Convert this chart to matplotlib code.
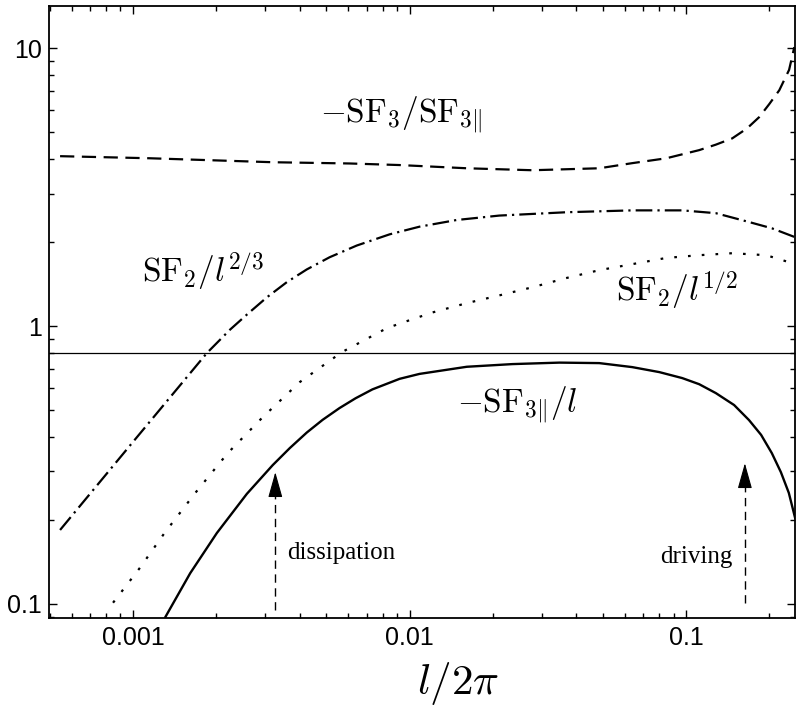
import matplotlib
matplotlib.use('Agg')
import matplotlib.pyplot as plt

plt.rcParams['mathtext.fontset'] = 'cm'

# -SF3/SF3par (dashed)
ratio_x = [0.000545, 0.00115, 0.0032, 0.00607, 0.0092, 0.0161, 0.0278, 0.0485, 0.0638,
           0.0848, 0.1114, 0.128, 0.1467, 0.166, 0.1835, 0.1995, 0.217, 0.2355, 0.246]
ratio_y = [4.09, 4.02, 3.89, 3.85, 3.80, 3.70, 3.64, 3.70, 3.86,
           4.02, 4.30, 4.50, 4.74, 5.15, 5.65, 6.29, 7.06, 8.36, 10.1]

# SF2/l^(2/3) (dash-dot)
sf23_x = [0.000545, 0.001, 0.00185, 0.00224, 0.00258, 0.00305, 0.0036, 0.00425, 0.00514,
          0.00644, 0.00847, 0.01086, 0.0148, 0.0211, 0.0369, 0.0638, 0.0968, 0.128,
          0.1687, 0.204, 0.2476]
sf23_y = [0.1846, 0.383, 0.80, 0.97, 1.10, 1.27, 1.44, 1.60, 1.77,
          1.95, 2.14, 2.28, 2.41, 2.50, 2.57, 2.61, 2.61, 2.55,
          2.37, 2.25, 2.09]

# SF2/l^(1/2) (dotted)
sf12_x = [0.000847, 0.00106, 0.0013, 0.00168, 0.0022, 0.00295, 0.00401, 0.00569, 0.00827,
          0.00944, 0.0121, 0.0161, 0.0211, 0.0278, 0.0369, 0.0485, 0.0848, 0.1114,
          0.1467, 0.1946, 0.222, 0.2476]
sf12_y = [0.101, 0.135, 0.180, 0.251, 0.349, 0.471, 0.629, 0.806, 0.983,
          1.03, 1.12, 1.21, 1.29, 1.38, 1.49, 1.59, 1.76, 1.80,
          1.83, 1.80, 1.73, 1.67]

# -SF3par/l (solid)
sf3_x = [0.00131, 0.00161, 0.00201, 0.00258, 0.0032, 0.00369, 0.00425, 0.00485, 0.00558,
         0.00638, 0.00734, 0.0092, 0.01086, 0.0161, 0.02355, 0.0348, 0.0485, 0.0638,
         0.080, 0.0968, 0.1114, 0.128, 0.149, 0.1687, 0.1866, 0.204, 0.220, 0.235, 0.2476]
sf3_y = [0.0898, 0.129, 0.180, 0.249, 0.316, 0.364, 0.414, 0.460, 0.507,
         0.550, 0.592, 0.646, 0.673, 0.714, 0.730, 0.739, 0.736, 0.712,
         0.683, 0.650, 0.618, 0.574, 0.520, 0.459, 0.406, 0.349, 0.298, 0.251, 0.204]

four_fifths = 0.8

# arrows: x, bottom, tip
arrow_x = [0.00327, 0.163]
arrow_bottom = [0.095, 0.101]
arrow_tip = [0.298, 0.321]

x_ticks = [0.001, 0.01, 0.1]
x_labels = ['0.001', '0.01', '0.1']
y_ticks = [0.1, 1, 10]
y_labels = ['0.1', '1', '10']

fig = plt.figure(figsize=(7.96, 7.11), dpi=100)
ax = fig.add_axes([49 / 796, 1 - 618 / 711, 746 / 796, 612 / 711])

ax.plot(ratio_x, ratio_y, color='black', lw=1.6, linestyle=(0, (6.4, 3.4)))
ax.plot(sf23_x, sf23_y, color='black', lw=1.6, linestyle=(0, (7.5, 2.3, 1.0, 2.3)))
ax.plot(sf12_x, sf12_y, color='black', lw=1.6, linestyle=(0, (1.2, 5.0)))
ax.plot(sf3_x, sf3_y, color='black', lw=1.7)
ax.axhline(four_fifths, color='black', lw=0.9)

for xa, yb, yt in zip(arrow_x, arrow_bottom, arrow_tip):
    ax.plot([xa, xa], [yb, yt * 0.93], color='black', lw=1.0, linestyle=(0, (6, 4)))
    ax.annotate('', xy=(xa, yt), xytext=(xa, yt * 0.9),
                arrowprops=dict(arrowstyle='-|>,head_length=1.6,head_width=0.45',
                                mutation_scale=10, color='black', lw=0.8,
                                shrinkA=0, shrinkB=0))

ax.text(0.0036, 0.152, 'dissipation', fontsize=18, family='Liberation Serif',
        ha='left', va='center')
ax.text(0.1466, 0.148, 'driving', fontsize=18, family='Liberation Serif',
        ha='right', va='center')

ax.text(0.00935, 5.74, r'$-\mathrm{SF}_3/\mathrm{SF}_{3\Vert}$', fontsize=24,
        ha='center', va='center')
ax.text(0.00179, 1.59, r'$\mathrm{SF}_2/l^{2/3}$', fontsize=24, ha='center', va='center')
ax.text(0.0929, 1.35, r'$\mathrm{SF}_2/l^{1/2}$', fontsize=24, ha='center', va='center')
ax.text(0.0245, 0.52, r'$-\mathrm{SF}_{3\Vert}/l$', fontsize=24, ha='center', va='center')

ax.set_xscale('log')
ax.set_yscale('log')
ax.set_xlim(0.000497, 0.2474)
ax.set_ylim(0.089, 14.2)

ax.set_xticks(x_ticks)
ax.set_xticklabels(x_labels)
ax.set_yticks(y_ticks)
ax.set_yticklabels(y_labels)
for lab in ax.get_xticklabels() + ax.get_yticklabels():
    lab.set_family('Liberation Sans')
    lab.set_fontsize(18)

ax.tick_params(which='both', direction='in', top=True, right=True, width=1.0)
ax.tick_params(which='major', length=6, pad=6)
ax.tick_params(which='minor', length=3.5)
ax.tick_params(axis='y', which='major', pad=5)
for s in ax.spines.values():
    s.set_linewidth(1.3)

ax.set_xlabel(r'$l/2\pi$', fontsize=31)
ax.xaxis.set_label_coords(0.548, -0.068)

fig.savefig('out.png', dpi=100)
